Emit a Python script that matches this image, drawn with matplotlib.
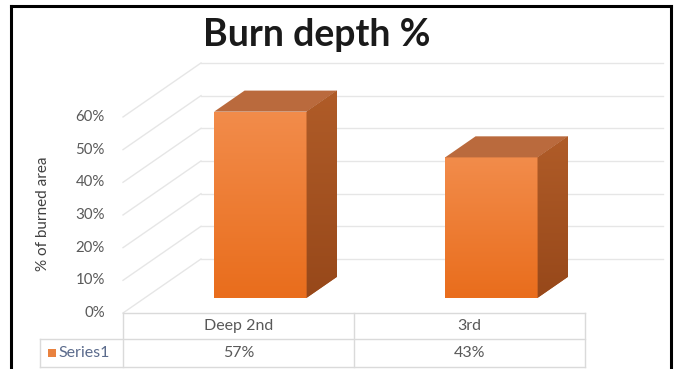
import numpy as np
import matplotlib
matplotlib.use("Agg")
import matplotlib.pyplot as plt
from matplotlib.patches import Polygon
from matplotlib.lines import Line2D
from matplotlib.colors import LinearSegmentedColormap

# ---- data ----
categories = ["Deep 2nd", "3rd"]
values = [57, 43]
value_labels = ["57%", "43%"]
series_name = "Series1"
yticks = [0, 10, 20, 30, 40, 50, 60]
ytick_labels = ["0%", "10%", "20%", "30%", "40%", "50%", "60%"]
title = "Burn depth %"
ylabel = "% of burned area"

# ---- layout / style ----
W, H = 677, 369
FONT = "Lato"
plt.rcParams["font.family"] = [FONT, "DejaVu Sans"]
fig = plt.figure(figsize=(W / 100, H / 100), dpi=100)
fig.patch.set_facecolor("white")

ax_l, ax_r, ax_b, ax_t = 123, 585, 313, 84.3
ax = fig.add_axes([ax_l / W, 1 - ax_b / H, (ax_r - ax_l) / W, (ax_b - ax_t) / H])
ax.set_xlim(0, len(categories))
ax.set_ylim(0, 70)
ax.axis("off")

pxx = (ax_r - ax_l) / len(categories)    # pixels per x unit
pxy = (ax_b - ax_t) / 70.0               # pixels per y unit
DX, DY = 78 / pxx, 54 / pxy              # full depth of the 3D box (data units)
t0, t1 = 0.28, 0.67                      # bar front / back depth fraction
bw = 0.40

grid_c = "#e6e6e6"
text_c = "#595959"

# back wall gridlines + side wall diagonals
for v in yticks:
    ax.add_line(Line2D([DX, len(categories) + DX], [v + DY, v + DY], color=grid_c, lw=1.0, zorder=1, clip_on=False))
    ax.add_line(Line2D([0, DX], [v, v + DY], color=grid_c, lw=1.0, zorder=1, clip_on=False))

# bars (3D look)
xs = np.arange(len(categories)) + 0.5 + t0 * DX
b0 = t0 * DY
ddx, ddy = (t1 - t0) * DX, (t1 - t0) * DY
bars = ax.bar(xs, values, width=bw, bottom=b0, color="#ee7b2f", zorder=3, clip_on=False)
grad = np.linspace(0, 1, 256).reshape(-1, 1)
front_cmap = LinearSegmentedColormap.from_list("f", ["#e96d1c", "#f28c4b"])
side_cmap = LinearSegmentedColormap.from_list("s", ["#97481a", "#b05c28"])
for x, v, bar in zip(xs, values, bars):
    x0, x1 = x - bw / 2, x + bw / 2
    im = ax.imshow(grad, cmap=front_cmap, origin="lower", aspect="auto",
                   extent=[x0, x1, b0, b0 + v], zorder=3.1)
    im.set_clip_path(bar)
    top = Polygon([(x0, b0 + v), (x1, b0 + v), (x1 + ddx, b0 + v + ddy), (x0 + ddx, b0 + v + ddy)],
                  closed=True, facecolor="#ba6a3d", edgecolor="none", zorder=3.2, clip_on=False)
    ax.add_patch(top)
    side = Polygon([(x1, b0), (x1, b0 + v), (x1 + ddx, b0 + v + ddy), (x1 + ddx, b0 + ddy)],
                   closed=True, facecolor="#a85422", edgecolor="none", zorder=3.2, clip_on=False)
    ax.add_patch(side)
    im2 = ax.imshow(grad, cmap=side_cmap, origin="lower", aspect="auto",
                    extent=[x1, x1 + ddx, b0, b0 + v + ddy], zorder=3.3)
    im2.set_clip_path(side)
ax.set_xlim(0, len(categories))
ax.set_ylim(0, 70)

# y tick labels
for v, lab in zip(yticks, ytick_labels):
    ax.text(-18 / pxx, v, lab, ha="right", va="center", fontsize=10.8, color=text_c, clip_on=False)
ax.text((43 - ax_l) / pxx, (ax_b - 214) / pxy, ylabel, rotation=90, ha="center", va="center",
        fontsize=11, color="#404040", clip_on=False)

# data table
r1 = -(339 - ax_b) / pxy
r2 = -(367 - ax_b) / pxy
left_cell = (40 - ax_l) / pxx
n = len(categories)
tc = "#dadada"
ax.add_line(Line2D([0, n], [0, 0], color=tc, lw=1, clip_on=False))
ax.add_line(Line2D([left_cell, n], [r1, r1], color=tc, lw=1, clip_on=False))
ax.add_line(Line2D([left_cell, n], [r2, r2], color=tc, lw=1, clip_on=False))
ax.add_line(Line2D([left_cell, left_cell], [r1, r2], color=tc, lw=1, clip_on=False))
for i in range(n + 1):
    ax.add_line(Line2D([i, i], [0, r2], color=tc, lw=1, clip_on=False))
for i, (c, vl) in enumerate(zip(categories, value_labels)):
    ax.text(i + 0.5, r1 / 2, c, ha="center", va="center", fontsize=11.5, color=text_c, clip_on=False)
    ax.text(i + 0.5, (r1 + r2) / 2, vl, ha="center", va="center", fontsize=11.5, color=text_c, clip_on=False)
ax.plot([(52 - ax_l) / pxx], [(r1 + r2) / 2], marker="s", markersize=5.5, color="#e9823f",
        markeredgewidth=0, clip_on=False)
ax.text((58 - ax_l) / pxx, (r1 + r2) / 2, series_name, ha="left", va="center", fontsize=11.5,
        color="#5b6b8c", clip_on=False)

# title
fig.text(317 / W, 1 - 35 / H, title, ha="center", va="center", fontsize=27, fontweight="bold", color="#1a1a1a")

# outer black frame (left, top, right)
fig.add_artist(Line2D([11 / W, 11 / W], [0, 1 - 6 / H], color="black", lw=2.2, transform=fig.transFigure))
fig.add_artist(Line2D([11 / W, 671 / W], [1 - 6 / H, 1 - 6 / H], color="black", lw=2.2, transform=fig.transFigure))
fig.add_artist(Line2D([671 / W, 671 / W], [0, 1 - 6 / H], color="black", lw=2.2, transform=fig.transFigure))

fig.savefig("out.png", dpi=100, facecolor="white")
